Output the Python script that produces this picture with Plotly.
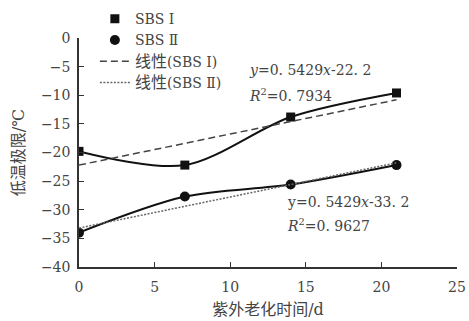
import plotly.graph_objects as go

days = [0, 7, 14, 21]
sbs1 = [-19.8, -22.2, -13.8, -9.6]
sbs2 = [-34.0, -27.7, -25.6, -22.2]
trend_x = [0, 21]
slope = 0.5429
intercept1 = -22.2
intercept2 = -33.2
x_ticks = [0, 5, 10, 15, 20, 25]
y_ticks = [0, -5, -10, -15, -20, -25, -30, -35, -40]

CJK = '<span style="font-size:16px">线性</span>'
names = ["SBS Ⅰ", "SBS Ⅱ", CJK + "(SBS Ⅰ)", CJK + "(SBS Ⅱ)"]
eq1 = ["<i>y</i>=0. 5429<i>x</i>-22. 2", "<i>R</i><sup>2</sup>=0. 7934"]
eq2 = ["y=0. 5429<i>x</i>-33. 2", "<i>R</i><sup>2</sup>=0. 9627"]

FONT = "DejaVu Serif, Noto Sans CJK SC, serif"
fig = go.Figure()

t1 = [slope * x + intercept1 for x in trend_x]
t2 = [slope * x + intercept2 for x in trend_x]

fig.add_trace(go.Scatter(x=days, y=sbs1, mode="lines", line=dict(color="#111", width=2, shape="spline", smoothing=0.9), showlegend=False))
fig.add_trace(go.Scatter(x=days, y=sbs2, mode="lines", line=dict(color="#111", width=2, shape="spline", smoothing=0.9), showlegend=False))
fig.add_trace(go.Scatter(x=days, y=sbs1, mode="markers", name=names[0], marker=dict(symbol="square", size=9, color="#111")))
fig.add_trace(go.Scatter(x=days, y=sbs2, mode="markers", name=names[1], marker=dict(symbol="circle", size=10, color="#111")))
fig.add_trace(go.Scatter(x=trend_x, y=t1, mode="lines", name=names[2], line=dict(color="#444", width=1.5, dash="7px,4px")))
fig.add_trace(go.Scatter(x=trend_x, y=t2, mode="lines", name=names[3], line=dict(color="#666", width=1.5, dash="2px,1.5px")))

anns = [
    (11.1, -5.6, eq1[0]), (11.1, -10.0, eq1[1]),
    (13.6, -28.7, eq2[0]), (13.6, -32.6, eq2[1]),
]
for ax_, ay_, txt in anns:
    fig.add_annotation(x=ax_, y=ay_, text=txt, showarrow=False, xanchor="left", yanchor="middle",
                       font=dict(family=FONT, size=14, color="#444"))

fig.update_layout(
    width=469, height=321,
    margin=dict(l=79, r=12, t=38, b=54, autoexpand=False),
    paper_bgcolor="white", plot_bgcolor="white",
    font=dict(family=FONT, size=14, color="#444"),
    legend=dict(x=0.042, y=0.99, xref="paper", yref="container", xanchor="left", yanchor="top",
                bgcolor="rgba(0,0,0,0)",
                font=dict(family=FONT, size=14, color="#444"), tracegroupgap=1, itemwidth=30),
    xaxis=dict(range=[0, 25], tickvals=x_ticks, showgrid=False, zeroline=False, automargin=False,
               showline=True, linecolor="#333", linewidth=1.5, ticks="inside", ticklen=5,
               tickcolor="#333", ticklabelstandoff=6,
               title=dict(text="紫外老化时间/d", font=dict(size=16), standoff=10)),
    yaxis=dict(range=[-40, 0], tickvals=y_ticks, showgrid=False, zeroline=False, automargin=False,
               showline=True, linecolor="#333", linewidth=1.5, ticks="inside", ticklen=5,
               tickcolor="#333", ticklabelstandoff=4,
               title=dict(text="低温极限/℃", font=dict(size=16), standoff=12)),
)
fig.write_html("out.html", post_script="document.body.style.margin='0px';",
               config={"displayModeBar": False})
